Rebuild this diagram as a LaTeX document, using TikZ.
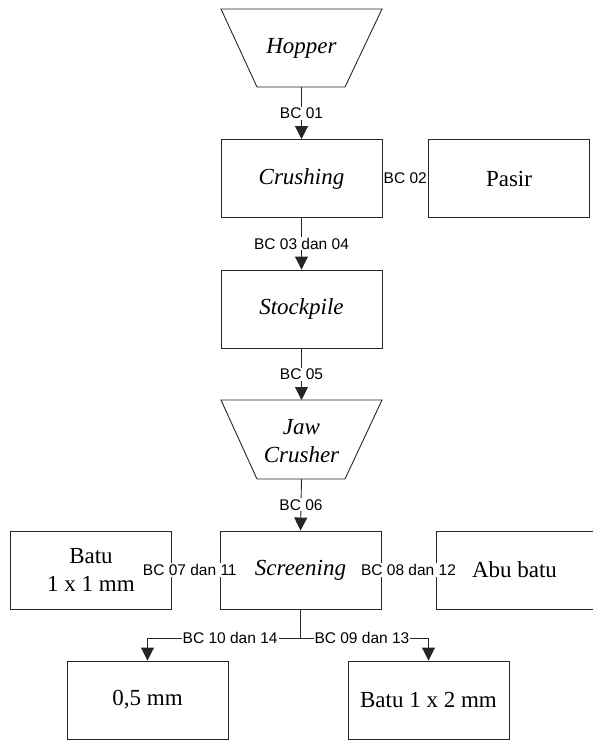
\documentclass[tikz,border=0pt]{standalone}
\usepackage{fontspec}
\setmainfont{Liberation Serif}
\newfontfamily\arialf{Liberation Sans}
\usetikzlibrary{arrows.meta}
\begin{document}
\begin{tikzpicture}[x=1pt,y=-1pt,
  line width=0.9pt,
  ln/.style={draw=black!85},
  boxn/.style={draw=black!85, minimum width=161pt, minimum height=78pt, inner sep=0pt, align=center,
     font=\fontsize{23}{28}\selectfont},
  txt/.style={inner sep=0pt, align=center, font=\fontsize{23}{28}\selectfont},
  lbl/.style={fill=white, inner sep=1pt, font=\arialf\fontsize{15.5}{17}\selectfont},
  arr/.style={ln, -{Triangle[length=13pt,width=13pt]}}]
\useasboundingbox (0,0) rectangle (593,740);
% Hopper trapezoid
\draw[ln] (221,9) -- (382,9) -- (345,87) -- (257,87) -- cycle;
\node[txt] (hop) at (301.5,48) {\itshape Hopper};
\coordinate (hopb) at (301.5,87);
% Crushing, Pasir
\node[boxn] (cru) at (301.5,178.5) {\itshape Crushing};
\node[boxn] (pas) at (509,178.5) {Pasir};
% Stockpile
\node[boxn] (sto) at (301.5,309) {\itshape Stockpile};
% Jaw crusher trapezoid
\draw[ln] (221,400) -- (382,400) -- (345,479) -- (257,479) -- cycle;
\node[txt] (jaw) at (301.5,441) {\itshape Jaw\\\itshape Crusher};
\coordinate (jawt) at (301.5,400);
\coordinate (jawb) at (301.5,479);
% Screening row
\node[boxn] (scr) at (300.5,570) {\itshape Screening};
\node[boxn] (b11) at (91,570) {Batu\\1 x 1 mm};
\node[boxn, minimum width=157pt] (abu) at (514.5,570) {Abu batu};
% bottom row
\node[boxn] (b05) at (147.5,700) {0,5 mm};
\node[boxn] (b12) at (428.5,700) {Batu 1 x 2 mm};
% connectors
\draw[arr] (hopb) -- node[lbl]{BC 01} (cru.north);
\draw[ln] (cru.east) -- node[lbl]{BC 02} (pas.west);
\draw[arr] (cru.south) -- node[lbl]{BC 03 dan 04} (sto.north);
\draw[arr] (sto.south) -- node[lbl]{BC 05} (jawt);
\draw[arr] (jawb) -- node[lbl]{BC 06} (scr.north);
\draw[ln] (scr.west) -- node[lbl,pos=0.625]{BC 07 dan 11} (b11.east);
\draw[ln] (scr.east) -- node[lbl]{BC 08 dan 12} (abu.west);
\coordinate (sp) at (300.5,638);
\draw[ln] (scr.south) -- (sp);
\draw[arr] (sp) -| node[lbl,pos=0.23]{BC 10 dan 14} (b05.north);
\draw[arr] (sp) -| node[lbl,pos=0.24]{BC 09 dan 13} (b12.north);
\end{tikzpicture}
\end{document}
